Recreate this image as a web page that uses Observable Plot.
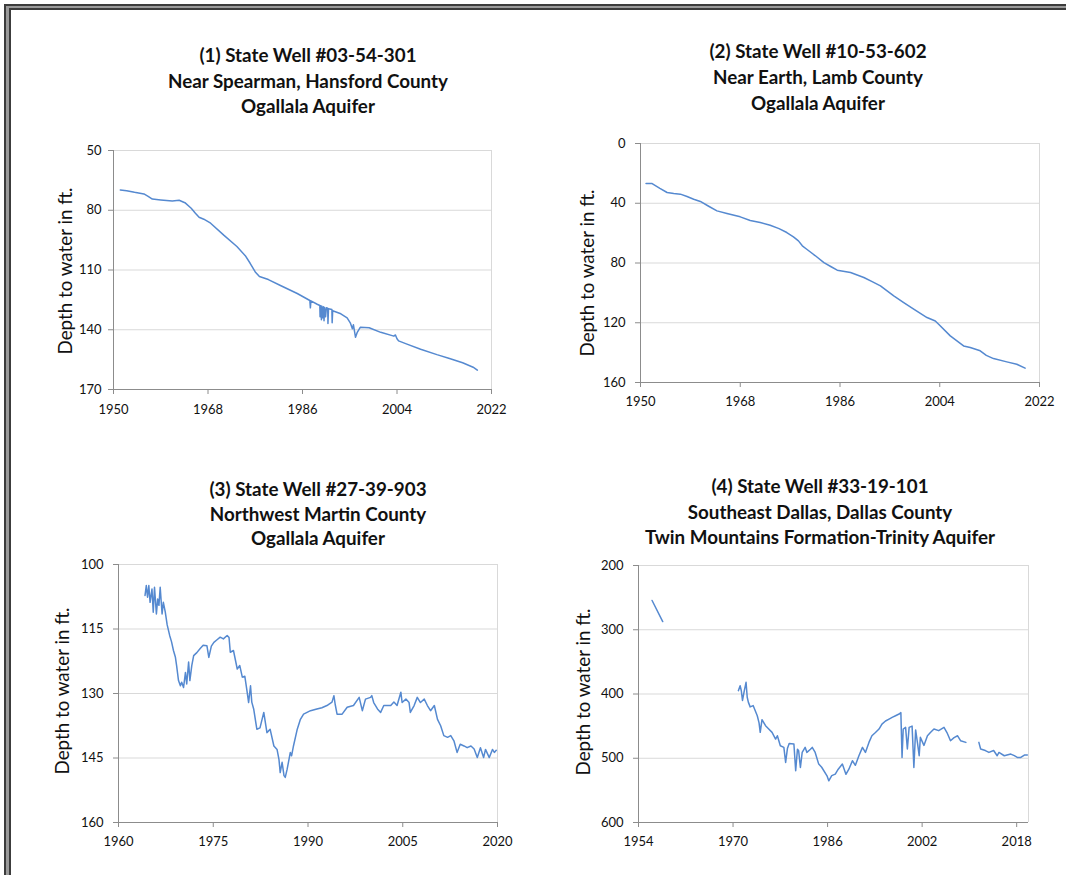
<!DOCTYPE html>
<html>
<head>
<meta charset="utf-8">
<script src="https://cdn.jsdelivr.net/npm/d3@7"></script>
<script src="https://cdn.jsdelivr.net/npm/@observablehq/plot@0.6"></script>
<style>
html, body { margin: 0; padding: 0; background: #fff; overflow: hidden; }
#page { position: relative; width: 1066px; height: 875px; overflow: hidden; background: #fff; font-family: Lato, "Open Sans", sans-serif; }
.frame-outer { position: absolute; left: 4px; top: 4px; width: 1200px; height: 1000px; border: 2px solid #3c3c3c; background: #9a9a9a; }
.frame-inner { position: absolute; left: 9px; top: 8px; width: 1200px; height: 1000px; border: 2px solid #3c3c3c; background: #fff; }
.title { position: absolute; width: 560px; text-align: center; font-weight: 700; font-size: 18.8px; color: #111; white-space: nowrap; }
.ylab { position: absolute; font-size: 18.8px; color: #111; white-space: nowrap; transform: translate(-50%, -50%) rotate(-90deg); }
.chart { position: absolute; }
</style>
</head>
<body>
<div id="page">
  <div class="frame-outer"></div>
  <div class="frame-inner"></div>
</div>
<script>
// ---------- Data ----------
const titles1 = ["(1) State Well #03-54-301", "Near Spearman, Hansford County", "Ogallala Aquifer"];
const titles2 = ["(2) State Well #10-53-602", "Near Earth, Lamb County", "Ogallala Aquifer"];
const titles3 = ["(3) State Well #27-39-903", "Northwest Martin County", "Ogallala Aquifer"];
const titles4 = ["(4) State Well #33-19-101", "Southeast Dallas, Dallas County", "Twin Mountains Formation-Trinity Aquifer"];
const yAxisLabel = "Depth to water in ft.";

const xTicks1 = [1950, 1968, 1986, 2004, 2022];
const yTicks1 = [50, 80, 110, 140, 170];
const xTicks2 = [1950, 1968, 1986, 2004, 2022];
const yTicks2 = [0, 40, 80, 120, 160];
const xTicks3 = [1960, 1975, 1990, 2005, 2020];
const yTicks3 = [100, 115, 130, 145, 160];
const xTicks4 = [1954, 1970, 1986, 2002, 2018];
const yTicks4 = [200, 300, 400, 500, 600];

const years1 = [1951.3, 1952.5, 1954.0, 1955.8, 1956.6, 1957.4, 1959.0, 1961.2, 1962.5, 1963.6, 1964.8, 1965.6, 1966.3, 1967.2, 1968.5, 1971.0, 1973.5, 1975.1, 1976.0, 1977.0, 1977.8, 1979.5, 1981.8, 1985.0, 1987.4, 1987.5, 1987.6, 1988.8, 1989.3, 1989.35, 1989.5, 1989.6, 1989.7, 1989.85, 1990.0, 1990.1, 1990.2, 1990.4, 1990.55, 1990.8, 1990.85, 1990.95, 1991.6, 1991.65, 1991.75, 1993.3, 1994.5, 1995.1, 1995.5, 1995.7, 1996.1, 1996.4, 1997.0, 1998.7, 2000.9, 2003.4, 2003.7, 2004.0, 2004.3, 2005.9, 2008.5, 2011.6, 2014.0, 2016.5, 2018.5, 2019.3];
const depth1 = [69.8, 70.2, 71.0, 71.8, 73.0, 74.4, 74.8, 75.3, 75.0, 76.2, 79.0, 81.5, 83.5, 84.5, 86.5, 92.5, 98.2, 102.8, 106.5, 111.0, 113.3, 114.8, 117.8, 121.8, 125.3, 129.0, 125.5, 127.2, 127.8, 133.5, 128.0, 135.0, 128.2, 134.0, 128.5, 135.5, 128.8, 133.5, 129.0, 129.2, 136.8, 129.5, 129.8, 136.5, 130.5, 132.0, 134.0, 136.5, 139.5, 137.5, 143.8, 141.5, 138.8, 139.0, 141.3, 143.2, 142.6, 144.5, 145.6, 147.2, 149.8, 152.5, 154.4, 156.6, 158.8, 160.3];

const years2 = [1951.0, 1952.1, 1953.5, 1954.8, 1956.0, 1957.2, 1958.4, 1959.6, 1960.8, 1962.3, 1963.8, 1965.6, 1968.0, 1969.8, 1971.6, 1973.4, 1975.0, 1976.4, 1977.6, 1978.5, 1979.2, 1980.0, 1981.5, 1983.1, 1984.4, 1985.5, 1987.9, 1990.3, 1991.8, 1993.3, 1995.7, 1997.5, 1999.3, 2001.7, 2003.2, 2003.8, 2005.9, 2008.3, 2009.5, 2011.3, 2012.4, 2013.7, 2016.1, 2017.9, 2019.4];
const depth2 = [26.8, 26.8, 30.0, 32.8, 33.5, 33.9, 35.5, 37.3, 38.8, 42.0, 45.1, 46.9, 49.1, 51.5, 52.9, 54.7, 57.0, 59.6, 62.5, 65.2, 68.5, 70.8, 75.0, 79.7, 82.5, 84.8, 86.4, 89.7, 92.5, 95.3, 102.0, 106.5, 110.9, 116.5, 118.8, 121.0, 128.8, 135.5, 136.6, 138.8, 141.8, 144.0, 146.2, 147.8, 150.4];

const years3 = [1964.2, 1964.4, 1964.6, 1964.8, 1965.0, 1965.3, 1965.5, 1965.7, 1966.0, 1966.2, 1966.4, 1966.6, 1966.9, 1967.1, 1967.4, 1967.7, 1968.1, 1968.4, 1968.7, 1969.0, 1969.2, 1969.5, 1969.8, 1970.0, 1970.3, 1970.6, 1970.8, 1971.1, 1971.3, 1971.6, 1971.9, 1972.4, 1972.9, 1973.4, 1974.0, 1974.3, 1974.7, 1975.1, 1975.6, 1976.1, 1976.6, 1977.2, 1977.5, 1977.7, 1978.2, 1978.8, 1979.2, 1979.6, 1980.0, 1980.3, 1980.6, 1980.9, 1981.1, 1981.4, 1981.9, 1982.4, 1983.0, 1983.5, 1984.0, 1984.6, 1985.1, 1985.4, 1985.6, 1985.9, 1986.2, 1986.4, 1986.7, 1987.2, 1987.4, 1987.7, 1988.3, 1988.8, 1989.3, 1990.4, 1991.4, 1992.2, 1993.0, 1993.8, 1994.1, 1994.3, 1994.6, 1995.4, 1996.2, 1997.2, 1998.1, 1998.6, 1999.1, 1999.9, 2000.1, 2000.4, 2001.0, 2001.5, 2002.0, 2003.1, 2003.6, 2004.1, 2004.7, 2004.9, 2005.5, 2006.0, 2006.2, 2006.8, 2007.3, 2007.8, 2008.4, 2008.9, 2009.4, 2010.0, 2010.5, 2011.0, 2011.5, 2012.1, 2012.6, 2013.1, 2013.6, 2014.1, 2014.7, 2015.2, 2015.8, 2016.3, 2016.8, 2017.3, 2017.8, 2018.1, 2018.7, 2019.2, 2019.5, 2019.8];
const depth3 = [107.2, 104.9, 107.6, 104.9, 108.8, 105.7, 111.1, 105.3, 111.5, 108.0, 109.5, 105.3, 111.5, 108.8, 111.0, 114.0, 116.5, 118.0, 120.0, 121.5, 123.5, 127.0, 128.2, 127.4, 128.6, 125.1, 127.8, 122.7, 127.0, 123.5, 121.2, 120.5, 119.6, 118.8, 118.9, 121.6, 119.0, 118.1, 117.5, 116.9, 117.3, 116.5, 117.0, 120.4, 120.0, 124.3, 123.5, 126.2, 126.0, 129.0, 132.1, 128.2, 132.0, 133.6, 138.3, 138.0, 134.4, 139.1, 138.3, 142.2, 143.0, 145.3, 148.4, 146.0, 149.1, 149.5, 147.6, 143.7, 144.5, 142.2, 138.3, 136.0, 134.8, 134.0, 133.6, 133.3, 132.8, 132.0, 130.5, 132.5, 134.8, 134.8, 133.2, 132.8, 130.9, 134.0, 131.3, 130.9, 130.5, 132.1, 133.6, 134.4, 132.8, 132.8, 132.0, 132.8, 129.7, 132.1, 131.3, 132.1, 134.4, 132.8, 130.9, 132.1, 131.3, 132.8, 134.0, 132.8, 136.0, 137.5, 139.8, 140.2, 139.8, 141.0, 143.7, 141.8, 142.2, 142.6, 142.2, 142.9, 144.9, 142.6, 144.9, 143.0, 144.9, 143.0, 143.7, 143.2];

// NaN marks a gap in the record
const years4 = [1956.3, 1958.1, 1964.0, 1970.9, 1971.2, 1971.4, 1971.6, 1971.9, 1972.2, 1972.4, 1972.6, 1972.9, 1973.4, 1974.1, 1974.4, 1974.6, 1974.9, 1975.5, 1976.0, 1976.6, 1977.2, 1977.5, 1978.0, 1978.6, 1978.9, 1979.2, 1979.5, 1980.3, 1980.6, 1980.9, 1981.1, 1981.4, 1981.7, 1982.2, 1982.5, 1983.1, 1983.4, 1983.9, 1984.5, 1985.0, 1985.9, 1986.2, 1986.7, 1987.3, 1987.8, 1988.5, 1989.1, 1989.6, 1990.2, 1990.7, 1991.3, 1991.9, 1992.4, 1993.0, 1993.5, 1994.1, 1994.7, 1995.2, 1995.8, 1996.4, 1997.0, 1997.5, 1998.1, 1998.4, 1998.6, 1998.8, 1999.2, 1999.5, 1999.8, 2000.3, 2000.6, 2000.9, 2001.2, 2001.5, 2001.7, 2002.3, 2002.9, 2003.4, 2004.0, 2004.8, 2005.7, 2006.2, 2006.8, 2007.4, 2008.0, 2008.5, 2009.4, 2010.5, 2011.6, 2011.9, 2012.7, 2013.3, 2014.1, 2014.7, 2015.0, 2015.9, 2017.0, 2017.6, 2018.1, 2018.7, 2019.3, 2019.8];
const depth4 = [254.5, 287.3, NaN, 394.8, 387, 395, 410, 395, 381.8, 405, 413, 420, 418, 433.8, 445, 459.7, 440, 449.4, 454, 459.7, 470.1, 465, 480.5, 483, 506.5, 485, 477, 477.9, 519.5, 486, 488.3, 514.3, 491, 483, 490.9, 486, 483.1, 491, 509.1, 514, 527.3, 535.1, 527, 524.7, 517, 509.1, 525, 517, 503.9, 511, 496.1, 483.1, 491, 475.3, 464.9, 460, 454.5, 446.8, 442, 439, 436, 433.8, 431.2, 429, 498.7, 454.5, 452, 485.7, 452, 450, 514.3, 456, 475.3, 496, 467.5, 480, 465, 460, 454.5, 457, 452, 460, 472.7, 468, 465, 472.7, 475.3, NaN, 475.3, 485.7, 488, 490.9, 488, 496.1, 491, 496.1, 493.5, 496, 498.7, 498.7, 495, 495];

// ---------- Drawing ----------
const page = document.getElementById("page");
const LINE = "#5589d0";
const AXIS = "#8c8c8c";
const GRID = "#d9d9d9";
const TEXT = "#111";

function addTitle(lines, cx, top, lh) {
  const d = document.createElement("div");
  d.className = "title";
  d.style.left = (cx - 280) + "px";
  d.style.top = top + "px";
  d.style.lineHeight = lh + "px";
  d.innerHTML = lines.map(t => `<div>${t}</div>`).join("");
  page.appendChild(d);
}
function addYLabel(cx, cy) {
  const d = document.createElement("div");
  d.className = "ylab";
  d.style.left = cx + "px";
  d.style.top = cy + "px";
  d.textContent = yAxisLabel;
  page.appendChild(d);
}

function panel(p) {
  const data = p.years.map((y, i) => ({year: y, depth: p.depths[i]}));
  const chart = Plot.plot({
    width: p.w, height: p.h,
    marginLeft: p.ml, marginRight: p.mr, marginTop: p.mt, marginBottom: p.mb,
    style: {fontFamily: "Lato, sans-serif", fontSize: "13px", color: TEXT, background: "transparent", overflow: "visible"},
    x: {domain: p.xDomain, label: null},
    y: {domain: p.yDomain, reverse: true, label: null},
    marks: [
      Plot.gridY(p.yTicks, {stroke: GRID, strokeOpacity: 1, strokeWidth: 1}),
      Plot.ruleX([p.xDomain[1]], {stroke: GRID, strokeWidth: 1}),
      Plot.axisY(p.yTicks, {tickSize: 5, tickPadding: p.ypad, stroke: AXIS, fill: TEXT, label: null, tickFormat: "d"}),
      Plot.axisX(p.xTicks, {tickSize: 5, tickPadding: p.xpad, stroke: AXIS, fill: TEXT, label: null, tickFormat: "d"}),
      Plot.ruleX([p.xDomain[0]], {stroke: AXIS, strokeWidth: 1}),
      Plot.ruleY([p.yDomain[1]], {stroke: AXIS, strokeWidth: 1}),
      Plot.line(data, {x: "year", y: "depth", stroke: LINE, strokeWidth: 1.5})
    ]
  });
  const wrap = document.createElement("div");
  wrap.className = "chart";
  wrap.style.left = p.left + "px";
  wrap.style.top = p.top + "px";
  wrap.appendChild(chart);
  page.appendChild(wrap);
}

// Panel 1: plot area x 113..491, y 150..389
panel({years: years1, depths: depth1, xDomain: [1950, 2022], yDomain: [50, 170], xTicks: xTicks1, yTicks: yTicks1,
  left: 30, top: 130, w: 490, h: 300, ml: 83, mr: 29, mt: 20, mb: 41, ypad: 7, xpad: 10});
// Panel 2: plot area x 640..1039, y 143..382
panel({years: years2, depths: depth2, xDomain: [1950, 2022], yDomain: [0, 160], xTicks: xTicks2, yTicks: yTicks2,
  left: 560, top: 123, w: 500, h: 300, ml: 80, mr: 21, mt: 20, mb: 41, ypad: 10, xpad: 9});
// Panel 3: plot area x 118..497, y 564..822
panel({years: years3, depths: depth3, xDomain: [1960, 2020], yDomain: [100, 160], xTicks: xTicks3, yTicks: yTicks3,
  left: 40, top: 544, w: 480, h: 320, ml: 78, mr: 23, mt: 20, mb: 42, ypad: 10, xpad: 9});
// Panel 4: plot area x 638..1028, y 565..822
panel({years: years4, depths: depth4, xDomain: [1954, 2020], yDomain: [200, 600], xTicks: xTicks4, yTicks: yTicks4,
  left: 560, top: 545, w: 490, h: 319, ml: 78, mr: 22, mt: 20, mb: 42, ypad: 10, xpad: 9});

addTitle(titles1, 308, 42, 25.5);
addTitle(titles2, 818, 38, 26);
addTitle(titles3, 318, 477, 24.5);
addTitle(titles4, 820, 473, 25.5);

addYLabel(64, 271);
addYLabel(586, 273);
addYLabel(61, 691);
addYLabel(582, 692);
</script>
</body>
</html>
